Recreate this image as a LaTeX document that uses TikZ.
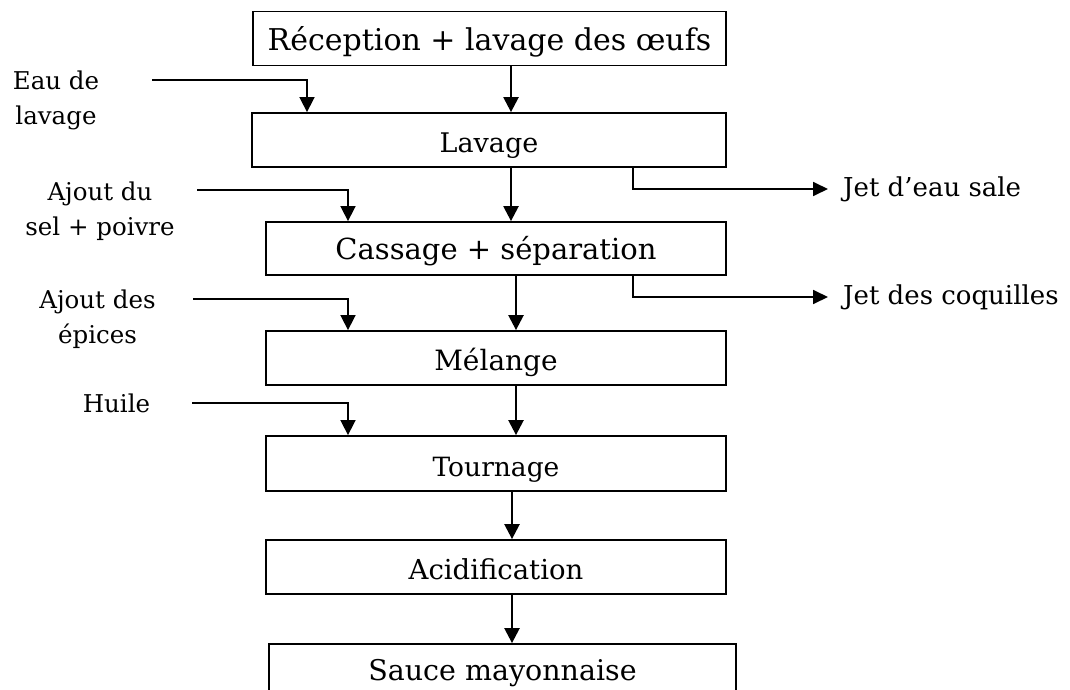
\documentclass[tikz,border=0pt]{standalone}
\usepackage{fontspec}
\setmainfont{DejaVu Serif}
\usetikzlibrary{arrows.meta}
\begin{document}
\begin{tikzpicture}[x=1pt,y=-1pt,
  stage/.style={draw, line width=1.8pt, inner sep=0pt,
    minimum width=#1, minimum height=54pt,
    text height=25pt, text depth=0pt},
  fs/.style={font=\fontsize{#1}{#1}\selectfont},
  sidelabel/.style={align=center, inner sep=0pt,
    font=\fontsize{24.5}{35}\selectfont},
  outlabel/.style={anchor=west, inner sep=0pt,
    font=\fontsize{26}{30}\selectfont},
  flow/.style={line width=2.4pt, -{Triangle[length=15pt,width=15pt]}},
  feed/.style={line width=1.6pt, -{Triangle[length=15pt,width=15pt]}},
  waste/.style={line width=1.8pt, -{Triangle[length=15pt,width=14pt]}}]
\useasboundingbox (0,0) rectangle (1070,690);
\clip (0,0) rectangle (1070,690);

% process stages
\node[stage=473pt, fs=30] (b1) at (489.5,38.5) {Réception + lavage des œufs};
\node[stage=474pt, fs=27] (b2) at (489,140) {Lavage};
\node[stage=460pt, minimum height=53pt, fs=29, text height=21pt] (b3) at (496,248.5) {Cassage + séparation};
\node[stage=460pt, fs=28] (b4) at (496,358) {Mélange};
\node[stage=460pt, minimum height=55pt, fs=26.5] (b5) at (496,463.5) {Tournage};
\node[stage=460pt, fs=27.5] (b6) at (496,567) {Acidification};
\node[stage=467pt, minimum height=58pt, fs=28.5, text height=14pt] (b7) at (502.5,673) {Sauce mayonnaise};

% columns of the vertical connectors
\coordinate (colA) at (511,0);
\coordinate (colB) at (516,0);
\coordinate (colC) at (512,0);
\coordinate (dropA) at (307,0);
\coordinate (dropB) at (348,0);
\coordinate (outX) at (633,0);

% main flow
\draw[flow] (b1.south -| colA) -- (b2.north -| colA);
\draw[flow] (b2.south -| colA) -- (b3.north -| colA);
\draw[flow] (b3.south -| colB) -- (b4.north -| colB);
\draw[flow] (b4.south -| colB) -- (b5.north -| colB);
\draw[flow] (b5.south -| colC) -- (b6.north -| colC);
\draw[flow] (b6.south -| colC) -- (b7.north -| colC);

% inputs
\node[sidelabel] (l1) at (56,100) {Eau de\\lavage};
\node[sidelabel] (l2) at (100,211) {Ajout du\\sel + poivre};
\node[sidelabel] (l3) at (97.5,319) {Ajout des\\épices};
\node[sidelabel] (l4) at (116.5,403) {Huile};
\coordinate (in1) at (152,80);
\coordinate (in2) at (197,190);
\coordinate (in3) at (193,299);
\coordinate (in4) at (192,403);
\draw[feed] (in1) -| (b2.north -| dropA);
\draw[feed] (in2) -| (b3.north -| dropB);
\draw[feed] (in3) -| (b4.north -| dropB);
\draw[feed] (in4) -| (b5.north -| dropB);

% outputs
\node[outlabel] (o1) at (843,189) {Jet d’eau sale};
\node[outlabel] (o2) at (843,297) {Jet des coquilles};
\draw[waste] (b2.south -| outX) |- ([xshift=-15pt]o1.west);
\draw[waste] (b3.south -| outX) |- ([xshift=-15pt]o2.west);
\end{tikzpicture}
\end{document}
